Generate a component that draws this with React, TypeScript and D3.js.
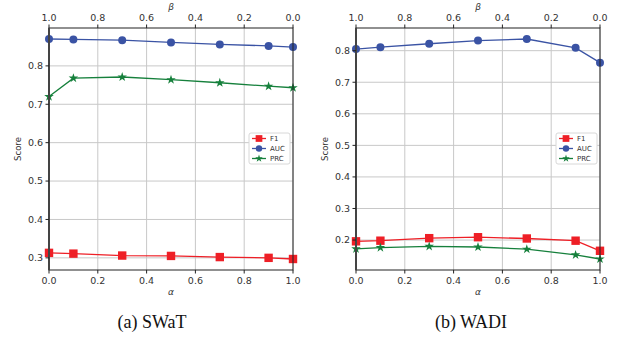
import React from 'react';
import * as d3 from 'd3';

const alphaValues = [0, 0.1, 0.3, 0.5, 0.7, 0.9, 1.0];
const xTicks = [0, 0.2, 0.4, 0.6, 0.8, 1.0];
const betaTicks = [1.0, 0.8, 0.6, 0.4, 0.2, 0.0];

const swatF1 = [0.313, 0.311, 0.306, 0.305, 0.302, 0.300, 0.297];
const swatAUC = [0.870, 0.869, 0.867, 0.861, 0.856, 0.852, 0.849];
const swatPRC = [0.720, 0.768, 0.771, 0.764, 0.756, 0.747, 0.743];
const swatYTicks = [0.3, 0.4, 0.5, 0.6, 0.7, 0.8];

const wadiF1 = [0.196, 0.198, 0.206, 0.209, 0.205, 0.198, 0.166];
const wadiAUC = [0.805, 0.811, 0.822, 0.832, 0.837, 0.809, 0.762];
const wadiPRC = [0.172, 0.176, 0.180, 0.178, 0.171, 0.153, 0.140];
const wadiYTicks = [0.2, 0.3, 0.4, 0.5, 0.6, 0.7, 0.8];

const seriesNames = ['F1', 'AUC', 'PRC'];
const seriesColors = ['#ee1f26', '#3a53a4', '#16803c'];
const seriesMarkers = ['square', 'circle', 'star'];

const tickFont = 'DejaVu Sans, sans-serif';
const tickColor = '#333';

const Marker: React.FC<{ kind: string; x: number; y: number; color: string; s?: number }> = ({ kind, x, y, color, s = 1 }) => {
  if (kind === 'square') {
    const h = 4.2 * s;
    return <rect x={x - h} y={y - h} width={2 * h} height={2 * h} fill={color} />;
  }
  if (kind === 'circle') {
    return <circle cx={x} cy={y} r={4 * s} fill={color} />;
  }
  const star = d3.symbol().type(d3.symbolStar).size(28 * s * s)();
  return <path d={star || ''} transform={`translate(${x},${y})`} fill={color} />;
};

interface PanelProps {
  left: number;
  right: number;
  series: number[][];
  yTicks: number[];
  caption: string;
  captionX: number;
}

const Panel: React.FC<PanelProps> = ({ left, right, series, yTicks, caption, captionX }) => {
  const top = 28;
  const bottom = 270;
  const all = series.flat();
  const lo = d3.min(all)!;
  const hi = d3.max(all)!;
  const pad = (hi - lo) * 0.05;

  const x = d3.scaleLinear().domain([0, 1]).range([left, right]);
  const xb = d3.scaleLinear().domain([1, 0]).range([left, right]);
  const y = d3.scaleLinear().domain([lo - pad, hi + pad]).range([bottom, top]);
  const line = d3.line<number>().x((_, i) => x(alphaValues[i])).y(d => y(d));

  const legX = right - 44;
  const legY = 133;

  return (
    <g>
      {/* grid */}
      {xTicks.map(t => (
        <line key={'gx' + t} x1={x(t)} x2={x(t)} y1={top} y2={bottom} stroke="#c8c8c8" strokeWidth={1} />
      ))}
      {yTicks.map(t => (
        <line key={'gy' + t} x1={left} x2={right} y1={y(t)} y2={y(t)} stroke="#c8c8c8" strokeWidth={1} />
      ))}

      {/* series */}
      {series.map((vals, si) => (
        <g key={seriesNames[si]}>
          <path d={line(vals) || ''} fill="none" stroke={seriesColors[si]} strokeWidth={1.3} />
          {vals.map((v, i) => (
            <Marker key={i} kind={seriesMarkers[si]} x={x(alphaValues[i])} y={y(v)} color={seriesColors[si]} />
          ))}
        </g>
      ))}

      {/* frame */}
      <rect x={left} y={top} width={right - left} height={bottom - top} fill="none" stroke="#222" strokeWidth={1} />
      <line x1={left} x2={left} y1={top} y2={bottom} stroke="#444" strokeWidth={2} />

      {/* bottom axis */}
      {xTicks.map(t => (
        <g key={'bx' + t}>
          <line x1={x(t)} x2={x(t)} y1={bottom} y2={bottom + 3.5} stroke="#222" />
          <text x={x(t)} y={bottom + 14} textAnchor="middle" fontSize={9.5} fontFamily={tickFont} fill={tickColor}>
            {t.toFixed(1)}
          </text>
        </g>
      ))}
      <text x={(left + right) / 2} y={bottom + 25} textAnchor="middle" fontSize={9} fontStyle="italic" fontFamily={tickFont} fill={tickColor}>
        α
      </text>

      {/* top axis */}
      {betaTicks.map(t => (
        <g key={'tx' + t}>
          <line x1={xb(t)} x2={xb(t)} y1={top} y2={top - 3.5} stroke="#222" />
          <text x={xb(t)} y={top - 7} textAnchor="middle" fontSize={9.5} fontFamily={tickFont} fill={tickColor}>
            {t.toFixed(1)}
          </text>
        </g>
      ))}
      <text x={(left + right) / 2} y={10} textAnchor="middle" fontSize={9} fontStyle="italic" fontFamily={tickFont} fill={tickColor}>
        β
      </text>

      {/* left axis */}
      {yTicks.map(t => (
        <g key={'ly' + t}>
          <line x1={left} x2={left - 3.5} y1={y(t)} y2={y(t)} stroke="#222" />
          <text x={left - 6} y={y(t) + 3.4} textAnchor="end" fontSize={9.5} fontFamily={tickFont} fill={tickColor}>
            {t.toFixed(1)}
          </text>
        </g>
      ))}
      <text
        transform={`translate(${left - 28},${(top + bottom) / 2}) rotate(-90)`}
        textAnchor="middle"
        fontSize={8.5}
        fontFamily={tickFont}
        fill={tickColor}
      >
        Score
      </text>

      {/* legend */}
      <rect x={legX} y={legY} width={41} height={31} rx={2} fill="#fff" stroke="#d8d8d8" strokeWidth={1} />
      {seriesNames.map((name, i) => {
        const ly = legY + 5.5 + i * 10;
        return (
          <g key={'leg' + name}>
            <line x1={legX + 3} x2={legX + 17} y1={ly} y2={ly} stroke={seriesColors[i]} strokeWidth={1.3} />
            <Marker kind={seriesMarkers[i]} x={legX + 10} y={ly} color={seriesColors[i]} s={0.8} />
            <text x={legX + 21} y={ly + 2.5} fontSize={7} fontFamily={tickFont} fill={tickColor}>
              {name}
            </text>
          </g>
        );
      })}

      {/* caption */}
      <text x={captionX} y={328} textAnchor="middle" fontSize={18} fontFamily="Liberation Serif, serif" fill="#111">
        {caption}
      </text>
    </g>
  );
};

const App: React.FC = () => {
  return (
    <svg width={617} height={342} style={{ position: 'absolute', left: 0, top: 0, background: '#fff' }}>
      <Panel left={49} right={293} series={[swatF1, swatAUC, swatPRC]} yTicks={swatYTicks} caption="(a) SWaT" captionX={152} />
      <Panel left={356} right={600} series={[wadiF1, wadiAUC, wadiPRC]} yTicks={wadiYTicks} caption="(b) WADI" captionX={471} />
    </svg>
  );
};

export default App;
